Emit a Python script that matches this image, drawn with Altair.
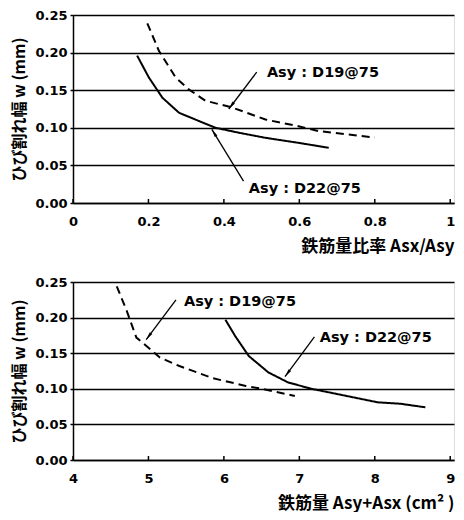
import math
import altair as alt
import pandas as pd

# ---------------- data ----------------
# Top panel: crack width vs. reinforcement ratio Asx/Asy
top_d19_x = [0.197, 0.228, 0.272, 0.307, 0.351, 0.422, 0.51, 0.598, 0.651, 0.731, 0.80]
top_d19_w = [0.239, 0.202, 0.167, 0.151, 0.136, 0.127, 0.111, 0.102, 0.0956, 0.091, 0.087]
top_d22_x = [0.170, 0.201, 0.237, 0.281, 0.334, 0.378, 0.44, 0.51, 0.598, 0.678]
top_d22_w = [0.196, 0.167, 0.140, 0.120, 0.109, 0.100, 0.0934, 0.0867, 0.080, 0.0734]

# Bottom panel: crack width vs. total reinforcement Asy+Asx (cm2)
bot_d19_x = [4.58, 4.71, 4.84, 5.02, 5.15, 5.41, 5.85, 6.29, 6.50, 6.94]
bot_d19_w = [0.244, 0.21, 0.172, 0.156, 0.144, 0.132, 0.115, 0.104, 0.100, 0.090]
bot_d22_x = [6.02, 6.15, 6.33, 6.59, 6.85, 7.16, 7.60, 8.04, 8.34, 8.67]
bot_d22_w = [0.197, 0.174, 0.146, 0.123, 0.109, 0.100, 0.0905, 0.081, 0.079, 0.074]

labels = ["Asy : D19@75", "Asy : D22@75"]
top_x_ticks = [0, 0.2, 0.4, 0.6, 0.8, 1]
bot_x_ticks = [4, 5, 6, 7, 8, 9]
y_ticks = [0, 0.05, 0.10, 0.15, 0.20, 0.25]

# annotations (data coordinates): text anchor, arrow tail, arrow head
top_text = [(0.514, 0.173), (0.466, 0.0186)]
top_tail = [(0.487, 0.174), (0.452, 0.029)]
top_head = [(0.413, 0.125), (0.368, 0.098)]
bot_text = [(5.47, 0.222), (7.27, 0.171)]
bot_tail = [(5.365, 0.225), (7.20, 0.173)]
bot_head = [(4.97, 0.169), (6.81, 0.117)]

FONT = "DejaVu Sans"
JFONT = "Noto Sans CJK JP"

W = 381
TOP_H = 188
BOT_H = 178


def panel(d19x, d19w, d22x, d22w, xdom, xticks, xtitle, texts, tails, heads, h):
    lines = pd.DataFrame(
        {"x": d19x + d22x, "w": d19w + d22w,
         "s": [labels[0]] * len(d19x) + [labels[1]] * len(d22x)}
    )
    xs = alt.Scale(domain=xdom, nice=False, zero=False)
    ys = alt.Scale(domain=[0, 0.25], nice=False, zero=True)
    xpx = W / (xdom[1] - xdom[0])
    ypx = h / 0.25
    ann = []
    for i in range(2):
        dx = (heads[i][0] - tails[i][0]) * xpx
        dy = -(heads[i][1] - tails[i][1]) * ypx
        ang = math.degrees(math.atan2(dx, -dy)) % 360
        ann.append({"tx": texts[i][0], "ty": texts[i][1], "label": labels[i],
                    "x1": tails[i][0], "y1": tails[i][1],
                    "x2": heads[i][0], "y2": heads[i][1], "ang": ang})
    ann = pd.DataFrame(ann)
    ticks_df = pd.DataFrame({"t": xticks})

    xaxis = alt.Axis(values=xticks, format="~g", title=xtitle, grid=False,
                     labelFont=FONT, labelFontWeight="bold", labelFontSize=13,
                     labelColor="black", labelPadding=12, ticks=False,
                     labelOverlap=False, labelFlush=False,
                     domainColor="black", domainWidth=1.5,
                     titleFont=JFONT, titleFontWeight="bold", titleFontSize=17,
                     titleColor="black", titleAnchor="end", titleAlign="right",
                     titleX=W, titlePadding=10)
    yaxis = alt.Axis(values=y_ticks, format=".2f", title="ひび割れ幅 w (mm)",
                     grid=True, gridColor="black", gridWidth=1.5, gridOpacity=1,
                     labelFont=FONT, labelFontWeight="bold", labelFontSize=13,
                     labelColor="black", labelPadding=3, ticks=True, tickSize=3,
                     tickColor="black", tickWidth=1.5,
                     labelOverlap=False, labelFlush=False,
                     domainColor="black", domainWidth=1.5,
                     titleFont=JFONT, titleFontWeight="bold", titleFontSize=16,
                     titleColor="black", titlePadding=7)

    base = alt.Chart(lines).mark_line(color="black", strokeWidth=2).encode(
        x=alt.X("x:Q", scale=xs, axis=xaxis),
        y=alt.Y("w:Q", scale=ys, axis=yaxis),
        strokeDash=alt.StrokeDash("s:N", legend=None,
                                  scale=alt.Scale(domain=labels, range=[[8, 5], [1, 0]])),
        detail="s:N",
    )
    inticks = alt.Chart(ticks_df).mark_rule(color="black", strokeWidth=1.5).encode(
        x=alt.X("t:Q", scale=xs, axis=xaxis), y=alt.value(h), y2=alt.value(h - 4))
    rules = alt.Chart(ann).mark_rule(color="black", strokeWidth=1.3).encode(
        x=alt.X("x1:Q", scale=xs, axis=xaxis), y=alt.Y("y1:Q", scale=ys, axis=yaxis),
        x2="x2:Q", y2="y2:Q")
    heads_m = alt.Chart(ann).mark_point(
        shape="M0,0L0.42,2.2L-0.42,2.2Z", filled=True, color="black", opacity=1, size=55
    ).encode(x=alt.X("x2:Q", scale=xs, axis=xaxis), y=alt.Y("y2:Q", scale=ys, axis=yaxis),
             angle=alt.Angle("ang:Q", scale=None))
    txt = alt.Chart(ann).mark_text(
        align="left", baseline="middle", font=FONT, fontWeight="bold", fontSize=14.5, color="black"
    ).encode(x=alt.X("tx:Q", scale=xs, axis=xaxis), y=alt.Y("ty:Q", scale=ys, axis=yaxis),
             text="label:N")
    return alt.layer(base, inticks, rules, heads_m, txt).properties(width=W, height=h)


top = panel(top_d19_x, top_d19_w, top_d22_x, top_d22_w, [0, 1.01], top_x_ticks,
            "鉄筋量比率  Asx/Asy", top_text, top_tail, top_head, TOP_H)
bot = panel(bot_d19_x, bot_d19_w, bot_d22_x, bot_d22_w, [4, 9.05], bot_x_ticks,
            "鉄筋量  Asy+Asx (cm² )", bot_text, bot_tail, bot_head, BOT_H)

chart = alt.vconcat(top, bot, spacing=20).properties(
    padding={"left": 3, "top": 0, "right": 0, "bottom": 0}
).configure_view(stroke="black", strokeWidth=1.5).configure(background="white")

chart.save("out.html", embed_options={"renderer": "svg", "actions": False})
